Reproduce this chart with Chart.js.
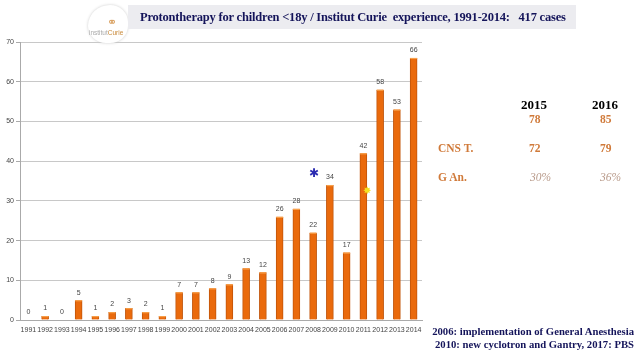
<!DOCTYPE html>
<html><head><meta charset="utf-8">
<script src="https://cdn.jsdelivr.net/npm/chart.js@4"></script>
<style>
html,body{margin:0;padding:0;background:#fff;}
#wrap{position:relative;width:640px;height:360px;overflow:hidden;}
canvas{position:absolute;left:0;top:0;}
.t{position:absolute;white-space:nowrap;font-family:"Liberation Serif","DejaVu Serif",serif;font-weight:bold;}
#titlebox{position:absolute;left:128px;top:5px;width:448px;height:24px;background:#ececf0;}
#logo{position:absolute;left:88px;top:5px;width:40px;height:38px;background:#fff;border-radius:55% 45% 45% 45%;box-shadow:0 0 3px #ccc;}
</style></head><body>
<div id="wrap">
<canvas id="c" width="640" height="360"></canvas>
<div id="logo"></div>
<div class="t" style="left:107px;top:15px;font-size:12px;color:#d9a060;font-weight:normal;font-family:'DejaVu Sans',sans-serif;">&#9901;</div>
<div class="t" style="left:89px;top:29px;font-size:6.5px;color:#c98a3a;font-family:Arial,sans-serif;font-weight:normal;"><span style="color:#aaa">institut</span>Curie</div>
<div id="titlebox"></div>
<div class="t" style="left:140px;top:10px;font-size:12.5px;color:#14145a;letter-spacing:-0.2px;">Protontherapy for children &lt;18y / Institut Curie&nbsp; experience, 1991-2014:&nbsp;&nbsp; 417 cases</div>
<div class="t" style="left:521px;top:97px;font-size:13px;color:#000;">2015</div>
<div class="t" style="left:592px;top:97px;font-size:13px;color:#000;">2016</div>
<div class="t" style="left:529px;top:113px;font-size:11.5px;color:#d07a3a;">78</div>
<div class="t" style="left:600px;top:113px;font-size:11.5px;color:#d07a3a;">85</div>
<div class="t" style="left:438px;top:142px;font-size:11.5px;color:#d07a3a;">CNS T.</div>
<div class="t" style="left:529px;top:142px;font-size:11.5px;color:#d07a3a;">72</div>
<div class="t" style="left:600px;top:142px;font-size:11.5px;color:#d07a3a;">79</div>
<div class="t" style="left:438px;top:171px;font-size:11.5px;color:#d07a3a;">G An.</div>
<div class="t" style="left:530px;top:171px;font-size:11.5px;color:#b89a8a;font-weight:normal;font-style:italic;">30%</div>
<div class="t" style="left:600px;top:171px;font-size:11.5px;color:#b89a8a;font-weight:normal;font-style:italic;">36%</div>
<div class="t" style="right:6px;top:325px;font-size:10.7px;color:#14145a;text-align:right;">2006: implementation of General Anesthesia</div>
<div class="t" style="right:6px;top:338px;font-size:10.7px;color:#14145a;text-align:right;">2010: new cyclotron and Gantry, 2017: PBS</div>
<div class="t" style="left:309px;top:166px;font-size:12px;color:#2a2ab0;font-family:'DejaVu Sans',sans-serif;">&#10033;</div>
<div class="t" style="left:363px;top:185px;font-size:10px;color:#f5e020;font-family:'DejaVu Sans',sans-serif;">&#10040;</div>
</div>
<script>
const years = ["1991","1992","1993","1994","1995","1996","1997","1998","1999","2000","2001","2002","2003","2004","2005","2006","2007","2008","2009","2010","2011","2012","2013","2014"];
const cases = [0,1,0,5,1,2,3,2,1,7,7,8,9,13,12,26,28,22,34,17,42,58,53,66];
const yTicks = [0,10,20,30,40,50,60,70];

const labelPlugin = {
  id:'vals',
  afterDatasetsDraw(chart){
    const ctx = chart.ctx;
    const meta = chart.getDatasetMeta(0);
    ctx.save();
    ctx.font = '7px "Liberation Sans", Arial, sans-serif';
    ctx.textAlign = 'center';
    ctx.textBaseline = 'bottom';
    meta.data.forEach((bar,i)=>{
      if (cases[i] > 0) {
        ctx.fillStyle = '#f7a04a';
        ctx.fillRect(bar.x - 3.5, bar.y, 7, 1.2);
      }
      ctx.fillStyle = '#444';
      ctx.fillText(String(cases[i]), bar.x, bar.y - 4);
    });
    ctx.restore();
  }
};

new Chart(document.getElementById('c'), {
  type:'bar',
  data:{labels:years, datasets:[{data:cases, backgroundColor:'#ea6a0c', borderColor:'#c2550a', borderWidth:{left:1,right:1,top:0,bottom:0}, barThickness:7}]},
  options:{
    responsive:false, animation:false,
    layout:{padding:{left:0,top:42,right:218,bottom:20}},
    plugins:{legend:{display:false}, tooltip:{enabled:false}},
    scales:{
      x:{
        grid:{display:false, tickLength:4},
        border:{color:'#aaa'},
        ticks:{font:{size:7,family:'"Liberation Sans", Arial, sans-serif'}, color:'#444', maxRotation:0, autoSkip:false, padding:2},
        afterFit(s){ s.height = 20; }
      },
      y:{
        min:0,max:70,
        afterBuildTicks(s){ s.ticks = yTicks.map(v=>({value:v})); },
        grid:{color:'#c8c8c8', tickLength:4, tickColor:'#aaa'},
        border:{color:'#aaa'},
        ticks:{font:{size:7,family:'"Liberation Sans", Arial, sans-serif'}, color:'#444', padding:2},
        afterFit(s){ s.width = 20; }
      }
    }
  },
  plugins:[labelPlugin]
});
</script>
</body></html>
